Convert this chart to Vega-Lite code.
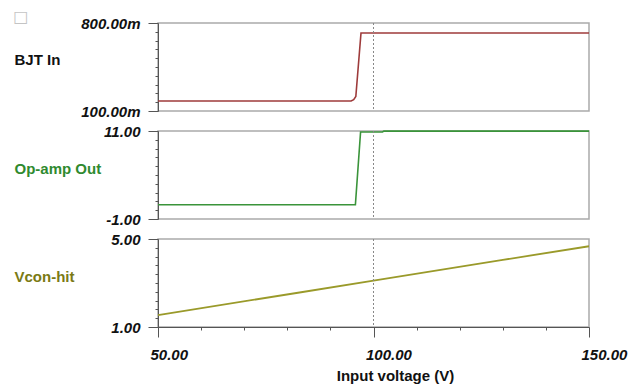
{
  "$schema": "https://vega.github.io/schema/vega-lite/v6.json",
  "padding": {"left": 13, "top": 9, "right": 0, "bottom": 0},
  "background": "white",
  "bounds": "flush",
  "title": {"text": "□", "anchor": "start", "frame": "bounds", "orient": "top", "offset": -10, "font": "DejaVu Sans", "fontSize": 16, "fontWeight": "normal", "color": "#c4c4c4", "baseline": "top"},
  "datasets": {
    "bjt": [
      {"v": 50, "y": 179}, {"v": 94.8, "y": 180}, {"v": 95.4, "y": 190}, {"v": 95.9, "y": 215}, {"v": 97.1, "y": 721}, {"v": 150, "y": 721}
    ],
    "opamp": [
      {"v": 50, "y": 0.95}, {"v": 95.8, "y": 0.95}, {"v": 97.0, "y": 10.86}, {"v": 102.1, "y": 10.87}, {"v": 102.4, "y": 10.98}, {"v": 150, "y": 10.98}
    ],
    "vcon": [
      {"v": 50, "y": 1.54}, {"v": 83.2, "y": 2.58}, {"v": 100, "y": 3.11}, {"v": 130, "y": 4.05}, {"v": 150, "y": 4.67}
    ]
  },
  "spacing": 20,
  "vconcat": [
    {
      "width": 431, "height": 88,
      "layer": [
        {
          "data": {"name": "bjt"},
          "mark": {"type": "line", "color": "#9e3b3b", "strokeWidth": 1.6},
          "encoding": {
            "x": {"field": "v", "type": "quantitative", "scale": {"domain": [50, 150]}, "axis": null},
            "y": {"field": "y", "type": "quantitative", "scale": {"domain": [100, 800]},
              "axis": {"title": "BJT In", "titleAngle": 0, "titleAlign": "left", "titleBaseline": "middle", "titleX": -144, "titleY": 36,
                "titleFont": "Liberation Sans", "titleFontSize": 15, "titleFontWeight": "bold", "titleColor": "#111",
                "values": [100, 170, 240, 310, 380, 450, 520, 590, 660, 730, 800],
                "labelExpr": "datum.index == 0 || datum.index == 1 ? format(datum.value, '.2f') + 'm' : ''",
                "labelFont": "Liberation Sans", "labelFontSize": 15, "labelFontStyle": "italic", "labelFontWeight": "bold", "labelColor": "#111",
                "labelOverlap": false, "labelPadding": 8,
                "tickSize": {"condition": {"test": "datum.index == 0 || datum.index == 1", "value": 10}, "value": 3},
                "tickColor": "#555", "domainColor": "#555", "grid": false}}
          }
        },
        {
          "data": {"values": [{}]},
          "mark": {"type": "rule", "color": "#888", "strokeDash": [2, 2], "strokeWidth": 1},
          "encoding": {"x": {"datum": 100, "type": "quantitative"}}
        }
      ]
    },
    {
      "width": 431, "height": 88,
      "layer": [
        {
          "data": {"name": "opamp"},
          "mark": {"type": "line", "color": "#3a943a", "strokeWidth": 1.6},
          "encoding": {
            "x": {"field": "v", "type": "quantitative", "scale": {"domain": [50, 150]}, "axis": null},
            "y": {"field": "y", "type": "quantitative", "scale": {"domain": [-1, 11]},
              "axis": {"title": "Op-amp Out", "titleAngle": 0, "titleAlign": "left", "titleBaseline": "middle", "titleX": -144, "titleY": 37,
                "titleFont": "Liberation Sans", "titleFontSize": 15, "titleFontWeight": "bold", "titleColor": "#2f8a2f",
                "values": [-1, 0.2, 1.4, 2.6, 3.8, 5, 6.2, 7.4, 8.6, 9.8, 11],
                "labelExpr": "datum.index == 0 || datum.index == 1 ? (datum.value < 0 ? '-' : '') + format(abs(datum.value), '.2f') : ''",
                "labelFont": "Liberation Sans", "labelFontSize": 15, "labelFontStyle": "italic", "labelFontWeight": "bold", "labelColor": "#111",
                "labelOverlap": false, "labelPadding": 8,
                "tickSize": {"condition": {"test": "datum.index == 0 || datum.index == 1", "value": 10}, "value": 3},
                "tickColor": "#555", "domainColor": "#555", "grid": false}}
          }
        },
        {
          "data": {"values": [{}]},
          "mark": {"type": "rule", "color": "#888", "strokeDash": [2, 2], "strokeWidth": 1},
          "encoding": {"x": {"datum": 100, "type": "quantitative"}}
        }
      ]
    },
    {
      "width": 431, "height": 88,
      "layer": [
        {
          "data": {"name": "vcon"},
          "mark": {"type": "line", "color": "#9a9a2a", "strokeWidth": 1.8},
          "encoding": {
            "x": {"field": "v", "type": "quantitative", "scale": {"domain": [50, 150]},
              "axis": {"title": "Input voltage (V)", "titleFont": "Liberation Sans", "titleFontSize": 15, "titleFontWeight": "bold", "titleColor": "#111",
                "titleX": 237, "titleY": 48, "titleBaseline": "middle", "titleAlign": "center",
                "values": [50, 55, 60, 65, 70, 75, 80, 85, 90, 95, 100, 105, 110, 115, 120, 125, 130, 135, 140, 145, 150],
                "labelExpr": "datum.value % 50 == 0 ? format(datum.value, '.2f') : ''",
                "labelFont": "Liberation Sans", "labelFontSize": 15, "labelFontStyle": "italic", "labelFontWeight": "bold", "labelColor": "#111",
                "labelAlign": "left", "labelOffset": -8, "labelOverlap": false, "labelFlush": false, "labelPadding": 10,
                "tickSize": {"condition": {"test": "datum.value % 50 == 0", "value": 10}, "value": 3},
                "tickColor": "#555", "domainColor": "#555", "grid": false}},
            "y": {"field": "y", "type": "quantitative", "scale": {"domain": [1, 5]},
              "axis": {"title": "Vcon-hit", "titleAngle": 0, "titleAlign": "left", "titleBaseline": "middle", "titleX": -144, "titleY": 37,
                "titleFont": "Liberation Sans", "titleFontSize": 15, "titleFontWeight": "bold", "titleColor": "#7a7a14",
                "values": [1, 1.4, 1.8, 2.2, 2.6, 3, 3.4, 3.8, 4.2, 4.6, 5],
                "labelExpr": "datum.index == 0 || datum.index == 1 ? format(datum.value, '.2f') : ''",
                "labelFont": "Liberation Sans", "labelFontSize": 15, "labelFontStyle": "italic", "labelFontWeight": "bold", "labelColor": "#111",
                "labelOverlap": false, "labelPadding": 8,
                "tickSize": {"condition": {"test": "datum.index == 0 || datum.index == 1", "value": 10}, "value": 3},
                "tickColor": "#555", "domainColor": "#555", "grid": false}}
          }
        },
        {
          "data": {"values": [{}]},
          "mark": {"type": "rule", "color": "#888", "strokeDash": [2, 2], "strokeWidth": 1},
          "encoding": {"x": {"datum": 100, "type": "quantitative"}}
        }
      ]
    }
  ],
  "config": {
    "view": {"stroke": "#aaaaaa", "strokeWidth": 1.5},
    "axis": {"grid": false}
  }
}
